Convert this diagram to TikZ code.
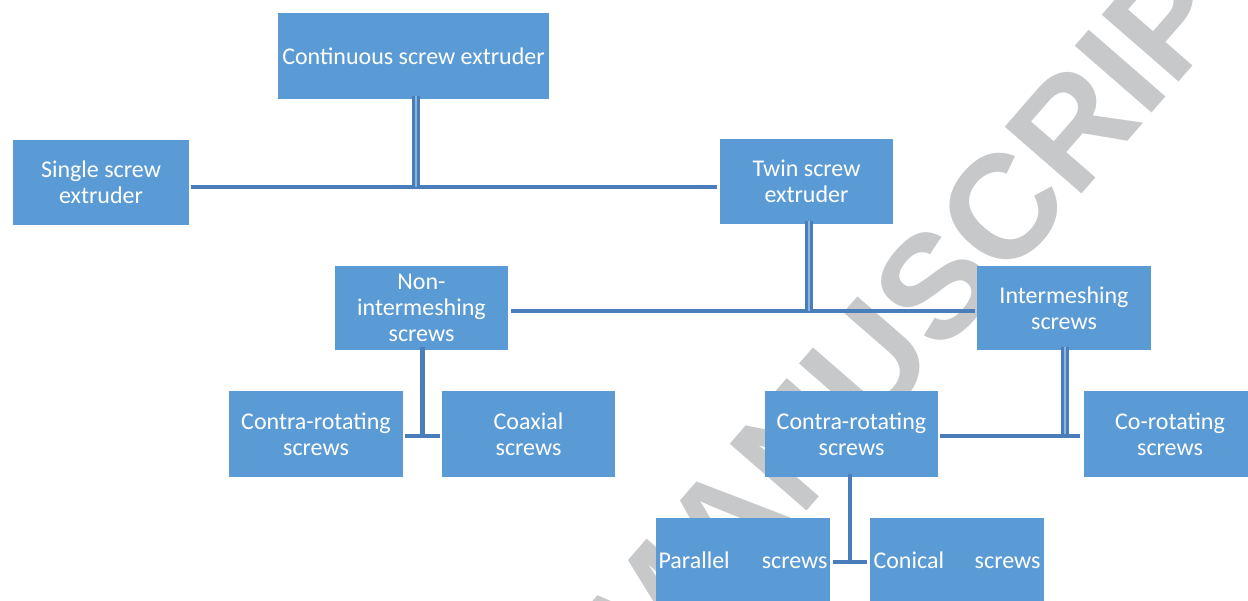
\documentclass[tikz,border=0pt]{standalone}
\usepackage{fontspec}
\setmainfont{Carlito}
\newfontfamily\wmfont{Liberation Sans}
\definecolor{boxblue}{RGB}{91,155,213}
\definecolor{lineblue}{RGB}{74,126,187}
\definecolor{lightline}{RGB}{140,180,222}
\definecolor{wmgray}{RGB}{199,200,202}
\begin{document}
\begin{tikzpicture}[x=1pt,y=-1pt,
  box/.style={fill=boxblue, draw=none, inner sep=0pt, text=white, align=center,
    font=\fontsize{24}{26}\selectfont, minimum width=174pt, minimum height=86pt},
  conn/.style={draw=lineblue, line width=4pt},
  dconn/.style={draw=lineblue, double=lightline, line width=3pt, double distance=2pt},
  mconn/.style={draw=lineblue, line width=5pt}
]
\useasboundingbox (0,0) rectangle (1248,600);
\clip (0,0) rectangle (1248,600);
% watermark
\node[rotate=49, text=wmgray, inner sep=0pt,
  font=\wmfont\bfseries\fontsize{148}{148}\selectfont] (wm) at (935,286) {MANUSCRIPT};
% boxes
\node[box, minimum width=271pt] (cont) at (413.5,56) {Continuous screw extruder};
\node[box, minimum width=176pt, minimum height=85pt] (single) at (101,182.5) {Single screw\\extruder};
\node[box, minimum width=173pt, minimum height=85pt] (twin) at (806.5,181.5) {Twin screw\\extruder};
\node[box, minimum width=173pt, minimum height=84pt] (nonint) at (421.5,308) {Non-\\intermeshing\\screws};
\node[box, minimum height=84pt] (inter) at (1064,308) {Intermeshing\\screws};
\node[box] (contraL) at (316,434) {Contra-rotating\\screws};
\node[box, minimum width=173pt] (coax) at (528.5,434) {Coaxial\\screws};
\node[box, minimum width=173pt] (contraM) at (851.5,434) {Contra-rotating\\screws};
\node[box, minimum width=173pt] (corot) at (1170,434) {Co-rotating\\screws};
\node[box, minimum height=85pt] (para) at (743,560.5) {\hbox to 169pt{Parallel\hfill screws}};
\node[box, minimum height=85pt] (conic) at (957,560.5) {\hbox to 167pt{Conical\hfill screws}};
% junctions
\coordinate (j1) at (416,187);
\coordinate (j2) at (809,311);
\coordinate (j3) at (422.5,435.5);
\coordinate (j4) at (1065,435.5);
\coordinate (j5) at (850,562);
% connectors
\draw[conn] ([xshift=2pt]single.east |- j1) -- ([xshift=2pt]j1);
\draw[conn] (j1) -- ([xshift=-3pt]twin.west |- j1);
\draw[dconn] ([yshift=3pt]cont.south -| j1) -- (j1);
\draw[conn] ([xshift=3pt]nonint.east |- j2) -- ([xshift=-2pt]inter.west |- j2);
\draw[dconn] ([yshift=3pt]twin.south -| j2) -- (j2);
\draw[conn] ([xshift=2pt]contraL.east |- j3) -- ([xshift=-2pt]coax.west |- j3);
\draw[mconn] ([yshift=3pt]nonint.south -| j3) -- ([yshift=2pt]j3);
\draw[conn] ([xshift=2pt]contraM.east |- j4) -- ([xshift=-3pt]corot.west |- j4);
\draw[dconn] ([yshift=3pt]inter.south -| j4) -- ([yshift=2pt]j4);
\draw[conn] ([xshift=3pt]para.east |- j5) -- ([xshift=-3pt]conic.west |- j5);
\draw[conn] ([yshift=3pt]contraM.south -| j5) -- ([yshift=2pt]j5);
\end{tikzpicture}
\end{document}
